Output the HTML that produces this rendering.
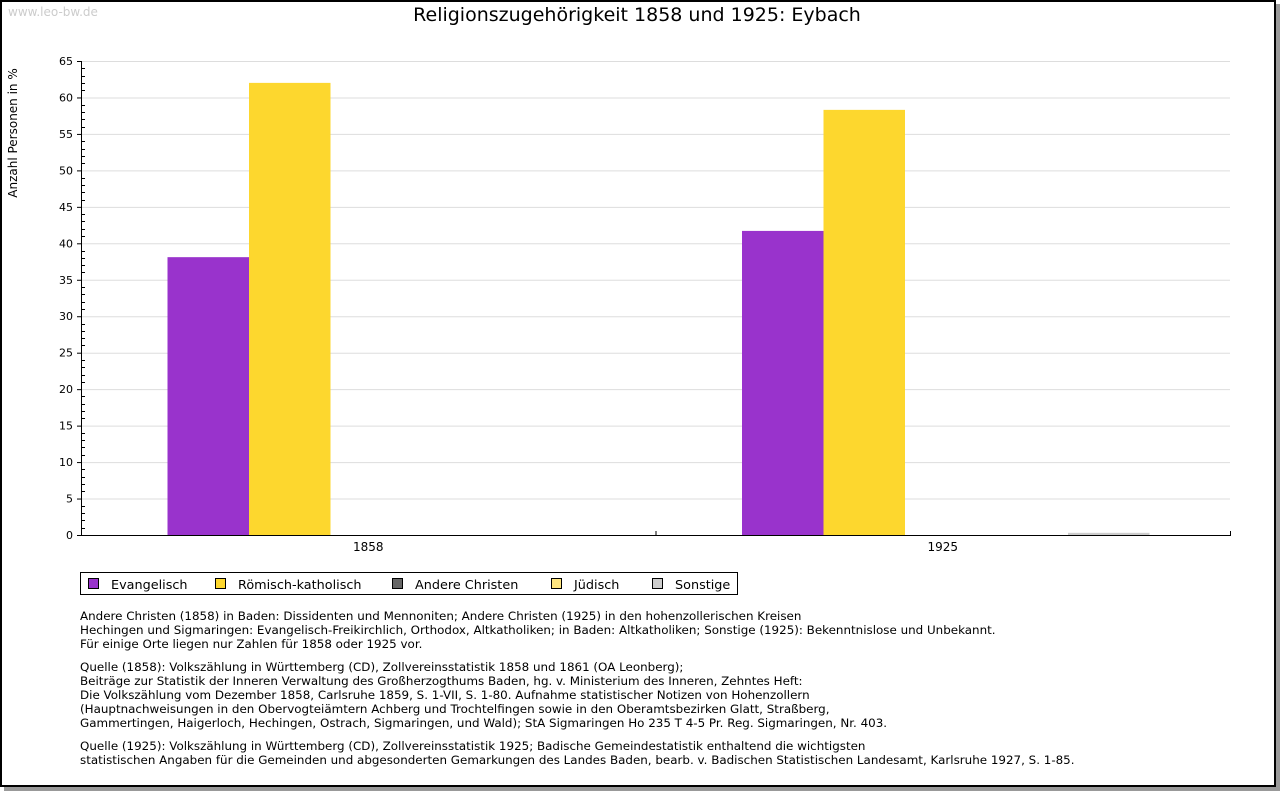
<!DOCTYPE html>
<html><head><meta charset="utf-8"><style>
body{margin:0;background:#fff;width:1280px;height:791px;overflow:hidden}
svg{display:block;font-family:"DejaVu Sans","Liberation Sans",sans-serif}
</style></head><body>
<svg id="chart" width="1280" height="791" xmlns="http://www.w3.org/2000/svg">
<rect x="4" y="4" width="1276" height="787" fill="#999"/>
<rect x="1" y="1" width="1274" height="785" fill="#fff" stroke="#000" stroke-width="2"/>
<text x="8" y="16" font-size="12" fill="#ccc">www.leo-bw.de</text>
<text x="637" y="21" font-size="19" text-anchor="middle" fill="#000">Religionszugehörigkeit 1858 und 1925: Eybach</text>
<text transform="translate(17,133) rotate(-90)" font-size="12" text-anchor="middle">Anzahl Personen in %</text>
<g id="grid"></g><g id="bars"></g><g id="axes"></g>
<g>
<rect x="80.5" y="572.5" width="657" height="22" fill="#fff" stroke="#000"/>
<g id="legend"></g>
</g>
<g font-size="11.9" fill="#000">
<text x="80" y="620">Andere Christen (1858) in Baden: Dissidenten und Mennoniten; Andere Christen (1925) in den hohenzollerischen Kreisen</text>
<text x="80" y="634">Hechingen und Sigmaringen: Evangelisch-Freikirchlich, Orthodox, Altkatholiken; in Baden: Altkatholiken; Sonstige (1925): Bekenntnislose und Unbekannt.</text>
<text x="80" y="648">Für einige Orte liegen nur Zahlen für 1858 oder 1925 vor.</text>
<text x="80" y="671">Quelle (1858): Volkszählung in Württemberg (CD), Zollvereinsstatistik 1858 und 1861 (OA Leonberg);</text>
<text x="80" y="685">Beiträge zur Statistik der Inneren Verwaltung des Großherzogthums Baden, hg. v. Ministerium des Inneren, Zehntes Heft:</text>
<text x="80" y="699">Die Volkszählung vom Dezember 1858, Carlsruhe 1859, S. 1-VII, S. 1-80. Aufnahme statistischer Notizen von Hohenzollern</text>
<text x="80" y="713">(Hauptnachweisungen in den Obervogteiämtern Achberg und Trochtelfingen sowie in den Oberamtsbezirken Glatt, Straßberg,</text>
<text x="80" y="727">Gammertingen, Haigerloch, Hechingen, Ostrach, Sigmaringen, und Wald); StA Sigmaringen Ho 235 T 4-5 Pr. Reg. Sigmaringen, Nr. 403.</text>
<text x="80" y="750">Quelle (1925): Volkszählung in Württemberg (CD), Zollvereinsstatistik 1925; Badische Gemeindestatistik enthaltend die wichtigsten</text>
<text x="80" y="764">statistischen Angaben für die Gemeinden und abgesonderten Gemarkungen des Landes Baden, bearb. v. Badischen Statistischen Landesamt, Karlsruhe 1927, S. 1-85.</text>
</g>
</svg>
<script>
const categories=["1858","1925"];
const seriesNames=["Evangelisch","Römisch-katholisch","Andere Christen","Jüdisch","Sonstige"];
const seriesColors=["#9933cc","#fdd72e","#666666","#ffe680","#cccccc"];
const evangelisch=[38.1,41.7];
const katholisch=[62.0,58.3];
const andere=[0,0];
const juedisch=[0,0];
const sonstige=[0,0.3];
const yTicks=[0,5,10,15,20,25,30,35,40,45,50,55,60,65];
const NS="http://www.w3.org/2000/svg";
const X0=81,X1=1230,Y0=535,Y1=61,YMAX=65;
function y(v){return Y0-(v/YMAX)*(Y0-Y1);}
const gw=(X1-X0)/categories.length;
const bw=81.5;
function bx(ci,si){return X0+ci*gw+(gw-bw*seriesNames.length)/2+3+si*bw;}
function mk(t,a,p){const e=document.createElementNS(NS,t);for(const k in a)e.setAttribute(k,a[k]);p.appendChild(e);return e;}
const grid=document.getElementById('grid'),axes=document.getElementById('axes'),bars=document.getElementById('bars'),leg=document.getElementById('legend');
yTicks.forEach(v=>{
 if(v>0){const l=mk('line',{x1:X0,x2:X1,y1:y(v)+0.5,y2:y(v)+0.5,stroke:'#ddd'},grid);
 
 }
 const t=mk('text',{x:73,y:y(v)+4,'font-size':11,'text-anchor':'end'},axes);t.textContent=v;
 
 
 mk('line',{x1:X0-4,x2:X0,y1:y(v)+0.5,y2:y(v)+0.5,stroke:'#000'},axes);
});
for(let v=1;v<YMAX;v++){if(v%5)mk('line',{x1:X0,x2:X0+4,y1:Math.round(y(v))+0.5,y2:Math.round(y(v))+0.5,stroke:'#000'},axes);}
const sers=[evangelisch,katholisch,andere,juedisch,sonstige];
categories.forEach((c,ci)=>{
 sers.forEach((s,si)=>{
  const v=s[ci];if(!v)return;
  const r=mk('rect',{x:bx(ci,si),y:y(v),width:bw,height:Y0-y(v),fill:seriesColors[si]},bars);
  
  
 });
 const t=mk('text',{x:X0+gw*(ci+0.5),y:551,'font-size':12,'text-anchor':'middle'},axes);t.textContent=c;
 
 
 mk('line',{x1:X0+gw*(ci+1)+0.5,x2:X0+gw*(ci+1)+0.5,y1:Y0-4,y2:Y0,stroke:'#000'},axes);
});
mk('line',{x1:X0+0.5,x2:X0+0.5,y1:Y1,y2:Y0+1,stroke:'#000'},axes);
mk('line',{x1:X0,x2:X1+1,y1:Y0+0.5,y2:Y0+0.5,stroke:'#000'},axes);
const lx=[88,215,392,551,652];
seriesNames.forEach((n,i)=>{
 const r=mk('rect',{x:lx[i]+0.5,y:578.5,width:10,height:10,fill:seriesColors[i],stroke:'#000'},leg);
 
 
 const t=mk('text',{x:lx[i]+23,y:589,'font-size':12.8},leg);t.textContent=n;
 
 
});
</script>
</body></html>
